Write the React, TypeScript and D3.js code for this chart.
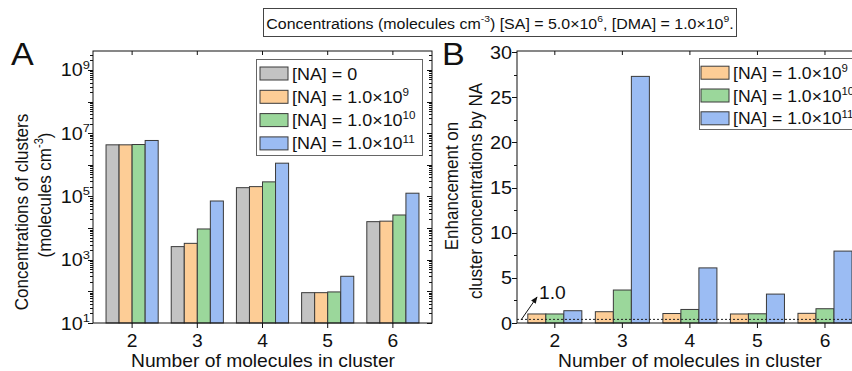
import React from 'react';
import * as d3 from 'd3';

// cluster sizes (number of molecules)
const categories = [2, 3, 4, 5, 6];

// panel A: cluster concentrations (molecules cm-3)
const concNA0 = [4.3e6, 2600, 1.9e5, 91, 1.6e4];
const concNA1e9 = [4.3e6, 3300, 2.05e5, 91, 1.66e4];
const concNA1e10 = [4.4e6, 9400, 2.9e5, 96, 2.6e4];
const concNA1e11 = [5.9e6, 7.2e4, 1.13e6, 300, 1.27e5];

// panel B: enhancement factor relative to [NA] = 0
const enhNA1e9 = [1.0, 1.25, 1.05, 1.0, 1.07];
const enhNA1e10 = [1.0, 3.65, 1.5, 1.02, 1.58];
const enhNA1e11 = [1.36, 27.3, 6.1, 3.2, 7.96];

const logLabels = [1, 3, 5, 7, 9];
const linTicks = [0, 5, 10, 15, 20, 25, 30];

const FONT = '"Liberation Sans", Arial, sans-serif';
const SX = 1.1; // the figure is a bit stretched horizontally

const COLORS = {
  gray: '#c3c3c3',
  orange: '#fdcd96',
  green: '#9bd79b',
  blue: '#9bbcf3',
};

const seriesA = [
  { values: concNA0, color: COLORS.gray, base: '[NA] = 0', exp: '' },
  { values: concNA1e9, color: COLORS.orange, base: '[NA] = 1.0×10', exp: '9' },
  { values: concNA1e10, color: COLORS.green, base: '[NA] = 1.0×10', exp: '10' },
  { values: concNA1e11, color: COLORS.blue, base: '[NA] = 1.0×10', exp: '11' },
];

const seriesB = [
  { values: enhNA1e9, color: COLORS.orange, base: '[NA] = 1.0×10', exp: '9' },
  { values: enhNA1e10, color: COLORS.green, base: '[NA] = 1.0×10', exp: '10' },
  { values: enhNA1e11, color: COLORS.blue, base: '[NA] = 1.0×10', exp: '11' },
];

type TProps = {
  x: number;
  y: number;
  size: number;
  anchor?: 'start' | 'middle' | 'end';
  rotate?: number;
  children: React.ReactNode;
};

const T = ({ x, y, size, anchor = 'start', rotate, children }: TProps) => (
  <text
    transform={`translate(${x},${y}) scale(${SX},1)${rotate ? ` rotate(${rotate})` : ''}`}
    fontSize={size}
    textAnchor={anchor}
    fontFamily={FONT}
    fill="#111"
  >
    {children}
  </text>
);

const sup = (s: string, size: number) => (
  <tspan dy={-0.42 * size} fontSize={0.65 * size}>
    {s}
  </tspan>
);

const PA = { left: 93, right: 432, top: 51, bottom: 323 };
const PB = { left: 517, right: 866, top: 51, bottom: 323 };

const App: React.FC = () => {
  const xA = d3.scaleLinear().domain([1.4, 6.6]).range([PA.left, PA.right]);
  const yA = d3.scaleLog().domain([10, 10 ** 9.6]).range([PA.bottom, PA.top]);
  const xB = d3.scaleLinear().domain([1.44, 6.6]).range([PB.left, 865.5]);
  const yB = d3.scaleLinear().domain([0, 30]).range([PB.bottom, PB.top + 1]);

  const bwA = 0.2;
  const bwB = 0.8 / 3;

  const logTicks = yA.ticks();
  const minorB = d3.range(0, 30.01, 2.5);

  return (
    <svg width={852} height={371} style={{ display: 'block', position: 'absolute', left: 0, top: 0 }}>
      <rect width={852} height={371} fill="#fff" />

      {/* title box */}
      <rect x={263.5} y={8.5} width={473} height={28} fill="#fff" stroke="#444" />
      <T x={500} y={28.5} size={14.5} anchor="middle">
        Concentrations (molecules cm{sup('-3', 14.5)}
        <tspan dy={0.42 * 14.5}>) [SA] = 5.0×10</tspan>
        {sup('6', 14.5)}
        <tspan dy={0.42 * 14.5}>, [DMA] = 1.0×10</tspan>
        {sup('9', 14.5)}
        <tspan dy={0.42 * 14.5}>.</tspan>
      </T>

      {/* ---------- panel A ---------- */}
      <T x={11} y={65} size={31}>A</T>

      {categories.map((c, ci) =>
        seriesA.map((s, si) => {
          const x0 = xA(c + (si - 2) * bwA);
          const x1 = xA(c + (si - 1) * bwA);
          return (
            <rect
              key={`a${ci}-${si}`}
              x={x0}
              y={yA(s.values[ci])}
              width={x1 - x0}
              height={PA.bottom - yA(s.values[ci])}
              fill={s.color}
              stroke="#3a3a3a"
              strokeWidth={1}
            />
          );
        })
      )}

      <rect x={PA.left} y={PA.top} width={PA.right - PA.left} height={PA.bottom - PA.top} fill="none" stroke="#111" />

      {logTicks.map((t, i) => {
        const major = Math.abs(Math.log10(t) - Math.round(Math.log10(t))) < 1e-9;
        const len = major ? 5 : 3;
        const y = Math.round(yA(t)) + 0.5;
        return (
          <g key={`lt${i}`} stroke="#111">
            <line x1={PA.left - len} x2={PA.left} y1={y} y2={y} />
            <line x1={PA.right - len} x2={PA.right} y1={y} y2={y} />
          </g>
        );
      })}
      {logLabels.map((e) => (
        <T key={`ll${e}`} x={90} y={yA(10 ** e) + 6.5} size={18} anchor="end">
          10{sup(String(e), 18)}
        </T>
      ))}

      {categories.map((c) => (
        <g key={`ax${c}`}>
          <line x1={xA(c)} x2={xA(c)} y1={PA.bottom} y2={PA.bottom + 5} stroke="#111" />
          <line x1={xA(c)} x2={xA(c)} y1={PA.top} y2={PA.top + 4} stroke="#111" />
          <T x={xA(c)} y={347} size={17.5} anchor="middle">{c}</T>
        </g>
      ))}

      <T x={263} y={367} size={17.5} anchor="middle">Number of molecules in cluster</T>
      <T x={28} y={212} size={17} anchor="middle" rotate={-90}>Concentrations of clusters</T>
      <T x={51} y={195} size={17} anchor="middle" rotate={-90}>
        (molecules cm{sup('-3', 17)}
        <tspan dy={0.42 * 17}>)</tspan>
      </T>

      {/* legend A */}
      <rect x={256.5} y={59.5} width={166} height={96} fill="#fff" stroke="#666" />
      {seriesA.map((s, i) => {
        const cy = 73.5 + i * 23.3;
        return (
          <g key={`la${i}`}>
            <rect x={260} y={cy - 6.5} width={28} height={13} fill={s.color} stroke="#3a3a3a" />
            <T x={292} y={cy + 6} size={16.3}>
              {s.base}
              {s.exp ? sup(s.exp, 16.3) : null}
            </T>
          </g>
        );
      })}

      {/* ---------- panel B ---------- */}
      <T x={442} y={65} size={31}>B</T>

      {categories.map((c, ci) =>
        seriesB.map((s, si) => {
          const x0 = xB(c + (si - 1.5) * bwB);
          const x1 = xB(c + (si - 0.5) * bwB);
          return (
            <rect
              key={`b${ci}-${si}`}
              x={x0}
              y={yB(s.values[ci])}
              width={x1 - x0}
              height={PB.bottom - yB(s.values[ci])}
              fill={s.color}
              stroke="#3a3a3a"
              strokeWidth={1}
            />
          );
        })
      )}

      {/* reference line near 1.0 */}
      <line x1={PB.left} x2={PB.right} y1={yB(0.4)} y2={yB(0.4)} stroke="#222" strokeDasharray="2,2" />
      <defs>
        <marker id="arr" viewBox="0 0 10 10" refX={9} refY={5} markerWidth={7} markerHeight={7} orient="auto">
          <path d="M0,1 L10,5 L0,9 z" fill="#111" />
        </marker>
      </defs>
      <line x1={521} y1={320} x2={537} y2={297} stroke="#111" markerEnd="url(#arr)" />
      <T x={539} y={299} size={17.5}>1.0</T>

      <rect x={PB.left} y={PB.top} width={PB.right - PB.left} height={PB.bottom - PB.top} fill="none" stroke="#111" />

      {minorB.map((t) => {
        const major = t % 5 === 0;
        const len = major ? 5 : 3;
        const y = Math.round(yB(t)) + 0.5;
        return <line key={`bt${t}`} x1={PB.left - len} x2={PB.left} y1={y} y2={y} stroke="#111" />;
      })}
      {linTicks.map((t) => (
        <T key={`bl${t}`} x={512} y={yB(t) + 6.5} size={18} anchor="end">{t}</T>
      ))}

      {categories.map((c) => (
        <g key={`bx${c}`}>
          <line x1={xB(c)} x2={xB(c)} y1={PB.bottom} y2={PB.bottom + 5} stroke="#111" />
          <line x1={xB(c)} x2={xB(c)} y1={PB.top} y2={PB.top + 4} stroke="#111" />
          <T x={xB(c)} y={347} size={17.5} anchor="middle">{c}</T>
        </g>
      ))}

      <T x={690} y={367} size={17.5} anchor="middle">Number of molecules in cluster</T>
      <T x={458} y={186} size={17} anchor="middle" rotate={-90}>Enhancement on</T>
      <T x={482} y={191} size={17} anchor="middle" rotate={-90}>cluster concentrations by NA</T>

      {/* legend B */}
      <rect x={699.5} y={58.5} width={160} height={71} fill="#fff" stroke="#666" />
      {seriesB.map((s, i) => {
        const cy = 72.7 + i * 22.8;
        return (
          <g key={`lb${i}`}>
            <rect x={701} y={cy - 6.5} width={28} height={13} fill={s.color} stroke="#3a3a3a" />
            <T x={733} y={cy + 6} size={16}>
              {s.base}
              {sup(s.exp, 16)}
            </T>
          </g>
        );
      })}
    </svg>
  );
};

export default App;
